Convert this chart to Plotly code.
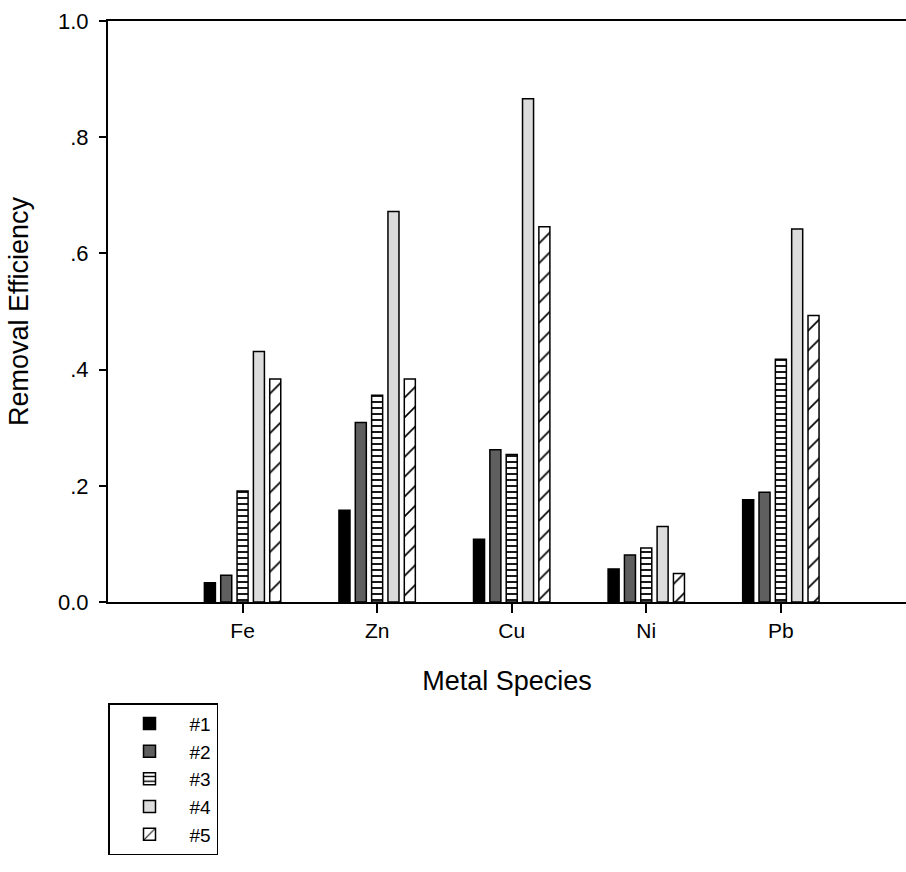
import plotly.graph_objects as go

categories = ["Fe", "Zn", "Cu", "Ni", "Pb"]
series_names = ["#1", "#2", "#3", "#4", "#5"]
s1 = [0.033, 0.158, 0.108, 0.057, 0.176]
s2 = [0.046, 0.309, 0.262, 0.081, 0.189]
s3 = [0.191, 0.356, 0.254, 0.093, 0.418]
s4 = [0.431, 0.672, 0.866, 0.130, 0.642]
s5 = [0.384, 0.384, 0.646, 0.049, 0.493]
series_values = [s1, s2, s3, s4, s5]
x_pos = [1, 2, 3, 4, 5]
y_tickvals = [0.0, 0.2, 0.4, 0.6, 0.8, 1.0]
y_ticktext = ["0.0", ".2", ".4", ".6", ".8", "1.0"]

styles = [
    dict(color="#000000"),
    dict(color="#5f5f5f"),
    dict(color="#ffffff", pattern=dict(shape="-", size=6, solidity=0.3,
                                       fgcolor="#000000", bgcolor="#ffffff", fillmode="replace")),
    dict(color="#dcdcdc"),
    dict(color="#ffffff", pattern=dict(shape="/", size=14, solidity=0.12,
                                       fgcolor="#000000", bgcolor="#ffffff", fillmode="replace")),
]

fig = go.Figure()
for name, vals, st in zip(series_names, series_values, styles):
    marker = dict(st)
    marker["line"] = dict(color="#000000", width=1.5)
    fig.add_trace(go.Bar(x=x_pos, y=vals, name=name, marker=marker))

font_family = "Liberation Sans, Arial, sans-serif"
fig.update_layout(
    width=906, height=872,
    margin=dict(l=108, r=0, t=21, b=270),
    paper_bgcolor="white", plot_bgcolor="white",
    barmode="group", bargap=0.393, bargroupgap=0.325,
    font=dict(family=font_family, color="#000000"),
    showlegend=True,
    legend=dict(
        x=0, y=-0.174, xanchor="left", yanchor="top",
        bordercolor="#000000", borderwidth=1.5, bgcolor="white",
        font=dict(size=19, family=font_family, color="#000000"),
        itemwidth=70, tracegroupgap=0,
    ),
    xaxis=dict(
        range=[0, 5.93], tickvals=x_pos, ticktext=categories,
        showgrid=False, zeroline=False,
        showline=True, linecolor="#000000", linewidth=2, mirror=True,
        ticks="outside", ticklen=9, tickwidth=1.5, tickcolor="#000000",
        tickfont=dict(size=21),
        title=dict(text="Metal Species", font=dict(size=27), standoff=30),
    ),
    yaxis=dict(
        range=[0, 1.0], tickvals=y_tickvals, ticktext=y_ticktext,
        showgrid=False, zeroline=False,
        showline=True, linecolor="#000000", linewidth=2, mirror=False,
        ticks="outside", ticklen=7, tickwidth=1.5, tickcolor="#000000",
        tickfont=dict(size=22), ticklabelstandoff=6,
        title=dict(text="Removal Efficiency", font=dict(size=27), standoff=22),
    ),
)

fig.write_html(
    "out.html",
    config={"displayModeBar": False},
    post_script="document.body.style.margin='0';document.body.style.overflow='hidden';",
)
